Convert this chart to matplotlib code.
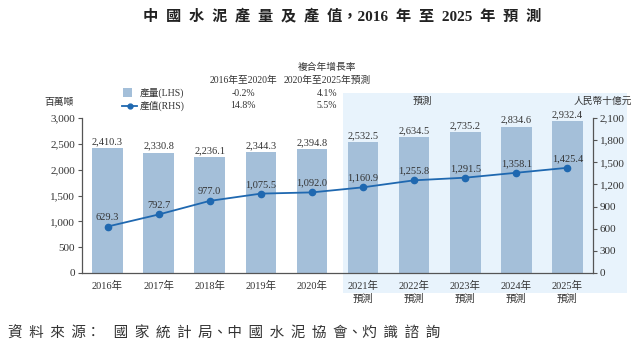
import matplotlib
matplotlib.use("Agg")
import matplotlib.pyplot as plt
from matplotlib.patches import Rectangle
from matplotlib.lines import Line2D

years = ["2016年", "2017年", "2018年", "2019年", "2020年",
         "2021年\n預測", "2022年\n預測", "2023年\n預測", "2024年\n預測", "2025年\n預測"]
volume = [2410.3, 2330.8, 2236.1, 2344.3, 2394.8, 2532.5, 2634.5, 2735.2, 2834.6, 2932.4]
value = [629.3, 792.7, 977.0, 1075.5, 1092.0, 1160.9, 1255.8, 1291.5, 1358.1, 1425.4]
cagr_cols = ["2016年至2020年", "2020年至2025年預測"]
cagr_volume = ["-0.2%", "4.1%"]
cagr_value = ["14.8%", "5.5%"]
left_ticks = list(range(0, 3001, 500))
right_ticks = list(range(0, 2101, 300))

FAM = ["Liberation Serif", "Noto Sans CJK TC"]
CJK = ["Noto Sans CJK TC", "Liberation Serif"]
plt.rcParams["font.family"] = FAM

BAR = "#a4bfd9"
LINE = "#1f68b0"
SHADE = "#e8f3fc"
TXT = "#333333"
AX = "#555555"

W, H = 640, 356
fig = plt.figure(figsize=(6.4, 3.56), dpi=100)
fig.patch.set_facecolor("white")

def fx(px):
    return px / W

def fy(py):
    return 1 - py / H

ax = fig.add_axes([fx(82), fy(273), fx(593) - fx(82), fy(118) - fy(273)])
ax.patch.set_alpha(0)
ax2 = ax.twinx()
ax2.patch.set_alpha(0)

# forecast shading (behind everything in the axes)
ax.add_patch(Rectangle((fx(343), fy(293)), fx(627) - fx(343), fy(93) - fy(293),
                       transform=fig.transFigure, facecolor=SHADE, edgecolor="none",
                       zorder=0, clip_on=False))

x = list(range(len(years)))
ax.bar(x, volume, width=0.6, color=BAR, zorder=2)
for xi, v in zip(x, volume):
    ax.text(xi, v + 35, f"{v:,.1f}", ha="center", va="bottom", fontsize=7.5, color=TXT,
            family=FAM)

ax.set_xlim(-0.5, 9.5)
ax.set_ylim(0, 3000)
ax.set_yticks(left_ticks)
ax.set_yticklabels([f"{t:,}" for t in left_ticks], fontsize=8, color=TXT, family=FAM)
ax.set_xticks(x)
ax.set_xticklabels(years, fontsize=7.5, color=TXT, family=FAM, linespacing=1.25, va="top")
ax.tick_params(axis="x", length=0, pad=6)
ax.tick_params(axis="y", length=3, color=AX, width=0.8, pad=2)

ax2.plot(x, value, color=LINE, lw=1.3, marker="o", ms=4.5, zorder=3)
for xi, v in zip(x, value):
    ax2.text(xi, v + 65, f"{v:,.1f}", ha="center", va="bottom", fontsize=7.5, color=TXT,
             family=FAM)
ax2.set_ylim(0, 2100)
ax2.set_yticks(right_ticks)
ax2.set_yticklabels([f"{t:,}" for t in right_ticks], fontsize=8, color=TXT, family=FAM)
ax2.tick_params(axis="y", length=3, color=AX, width=0.8, pad=2)

for a in (ax, ax2):
    a.spines["top"].set_visible(False)
    for s in ("left", "right", "bottom"):
        a.spines[s].set_color(AX)
        a.spines[s].set_linewidth(0.9)
ax.spines["right"].set_visible(False)
ax2.spines["left"].set_visible(False)
ax2.spines["bottom"].set_visible(False)

# axis unit labels
fig.text(fx(44), fy(102), "百萬噸", fontsize=7, color=TXT, family=CJK, va="center", ha="left")
fig.text(fx(632), fy(101), "人民幣十億元", fontsize=7, color=TXT, family=CJK, va="center", ha="right")
fig.text(fx(422), fy(101), "預測", fontsize=7, color=TXT, family=CJK, va="center", ha="center",
         style="italic")

# legend / CAGR table
fig.patches.append(Rectangle((fx(123), fy(97)), fx(9), 9 / H, transform=fig.transFigure,
                             facecolor=BAR, edgecolor="none"))
fig.lines.append(Line2D([fx(122), fx(137)], [fy(106), fy(106)], transform=fig.transFigure,
                        color=LINE, lw=1.3))
fig.lines.append(Line2D([fx(129.5)], [fy(106)], transform=fig.transFigure,
                        color=LINE, marker="o", ms=3.5))
fig.text(fx(140), fy(93), "產量(LHS)", fontsize=7, color=TXT, family=FAM, va="center")
fig.text(fx(140), fy(106), "產值(RHS)", fontsize=7, color=TXT, family=FAM, va="center")
fig.text(fx(327), fy(67), "複合年增長率", fontsize=7, color=TXT, family=CJK, va="center", ha="center")
for cx, col, a, b in zip([fx(243), fx(327)], cagr_cols, cagr_volume, cagr_value):
    fig.text(cx, fy(80), col, fontsize=7, color=TXT, family=FAM, va="center", ha="center")
    fig.text(cx, fy(93), a, fontsize=7, color=TXT, family=FAM, va="center", ha="center")
    fig.text(cx, fy(106), b, fontsize=7, color=TXT, family=FAM, va="center", ha="center")

# title
fig.text(fx(342), fy(17), "中  國  水  泥  產  量  及  產  值，2016  年  至  2025  年  預  測",
         fontsize=11, fontweight="bold", color="#222222", family=FAM, ha="center", va="center")

# source
fig.text(fx(8), fy(334), "資  料  來  源：    國  家  統  計  局、中  國  水  泥  協  會、灼  識  諮  詢",
         fontsize=10.5, color="#333333", family=CJK, ha="left", va="center", style="italic")

fig.savefig("out.png", dpi=100, facecolor="white")
